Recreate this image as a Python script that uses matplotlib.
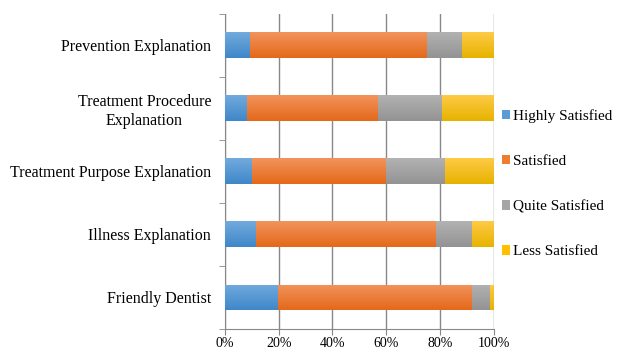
import matplotlib
matplotlib.use("Agg")
import matplotlib.pyplot as plt
import matplotlib.colors as mcolors
import numpy as np

categories = ["Prevention Explanation", "Treatment Procedure\nExplanation",
              "Treatment Purpose Explanation", "Illness Explanation", "Friendly Dentist"]
highly = [9.3, 8.1, 10.0, 11.5, 19.9]
satisfied = [65.9, 48.8, 49.9, 67.0, 72.0]
quite = [13.0, 23.9, 22.0, 13.4, 6.7]
less = [11.8, 19.2, 18.1, 8.1, 1.4]
series_names = ["Highly Satisfied", "Satisfied", "Quite Satisfied", "Less Satisfied"]
colors = ["#5B9BD5", "#ED7D31", "#A5A5A5", "#FFC000"]
grad_top = ["#72AADD", "#F2935C", "#B2B2B2", "#FFCB45"]
grad_bot = ["#3F87C9", "#E4691A", "#939393", "#E6B200"]
xticks = [0, 20, 40, 60, 80, 100]

plt.rcParams['font.family'] = ['Liberation Serif', 'DejaVu Serif']
fig = plt.figure(figsize=(6.18, 3.5), dpi=100)
ax = fig.add_axes([0.364, 0.06, 0.435, 0.901])

y = np.arange(len(categories))
left = np.zeros(len(categories))
handles = []
bh = 0.41
ax.set_ylim(len(categories) - 0.5, -0.5)
ax.set_xlim(0, 100)
for vals, name, c, ct, cb in zip([highly, satisfied, quite, less], series_names, colors, grad_top, grad_bot):
    bars = ax.barh(y, vals, left=left, height=bh, color=c, label=name, zorder=3)
    handles.append(bars)
    cmap = mcolors.LinearSegmentedColormap.from_list("g", [ct, cb])
    grad = np.linspace(0, 1, 64).reshape(-1, 1)
    for b in bars:
        x0, y0 = b.get_x(), b.get_y()
        w, h = b.get_width(), b.get_height()
        im = ax.imshow(grad, cmap=cmap, aspect='auto', origin='upper',
                       extent=(x0, x0 + w, y0 + h, y0), zorder=4)
        im.set_clip_path(b)
    left += np.array(vals)

ax.set_ylim(len(categories) - 0.5, -0.5)
ax.set_xlim(0, 100)
ax.set_xticks(xticks)
ax.set_xticklabels([f"{v}%" for v in xticks], fontsize=10)
ax.set_yticks(y)
ax.set_yticklabels(categories, fontsize=11.5, ha='right', multialignment='center')
ax.tick_params(axis='y', length=0, pad=10)
ax.set_yticks(np.arange(len(categories) + 1) - 0.5, minor=True)
ax.tick_params(axis='y', which='minor', length=4, color='#888888', direction='out')
ax.tick_params(axis='x', length=4, color='#888888', direction='out', pad=2)
ax.grid(axis='x', color='#888888', linewidth=1, zorder=0)
for s in ['top', 'right']:
    ax.spines[s].set_visible(False)
for s in ['left', 'bottom']:
    ax.spines[s].set_color('#888888')

leg = fig.legend(handles=handles, labels=series_names, loc='upper left',
                 bbox_to_anchor=(0.8, 0.71), frameon=False, fontsize=11,
                 handlelength=0.55, handleheight=0.55, handletextpad=0.15,
                 labelspacing=2.1, borderpad=0)
fig.savefig("out.png", dpi=100)
